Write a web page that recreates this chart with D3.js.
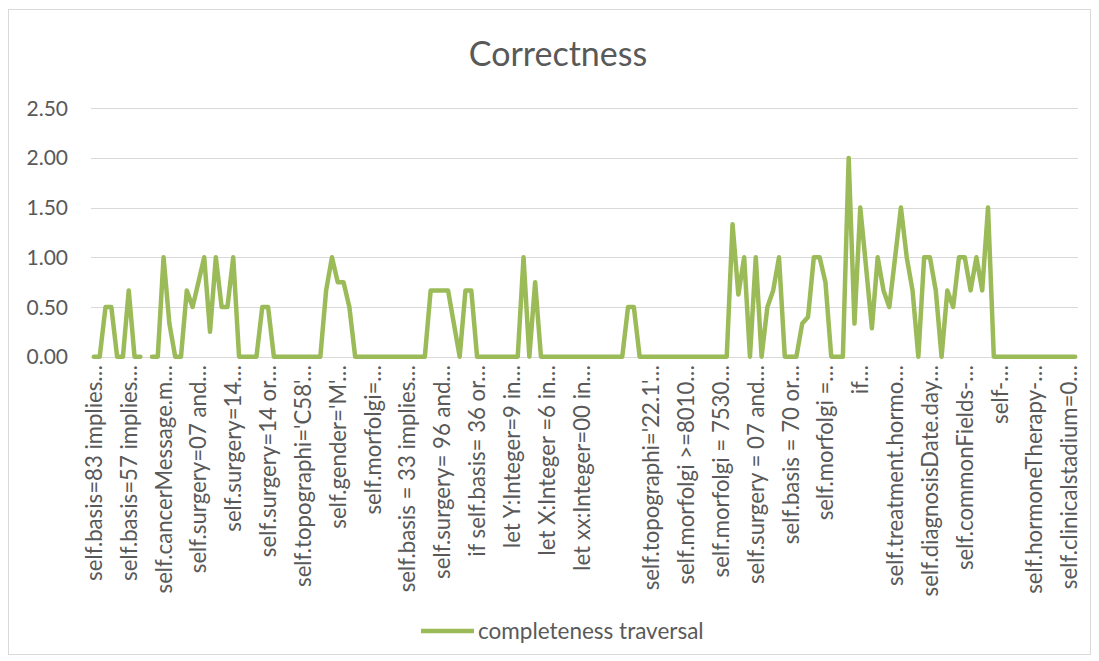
<!DOCTYPE html>
<html>
<head>
<meta charset="utf-8">
<script src="https://cdn.jsdelivr.net/npm/d3@7"></script>
<style>
  html, body { margin: 0; padding: 0; background: #fff; }
  svg { display: block; }
  text { font-family: Lato, "Open Sans", sans-serif; fill: #595959; }
</style>
</head>
<body>
<svg id="chart" width="1099" height="661"></svg>
<script>
const title = "Correctness";
const seriesName = "completeness traversal";
const yTicks = [0, 0.5, 1, 1.5, 2, 2.5];
const tickLabels = [
  "self.basis=83 implies…", "self.basis=57 implies…", "self.cancerMessage.m…",
  "self.surgery=07 and…", "self.surgery=14…", "self.surgery=14 or…",
  "self.topographi='C58'…", "self.gender='M'…", "self.morfolgi=…",
  "self.basis = 33 implies…", "self.surgery= 96 and…", "if self.basis= 36 or…",
  "let Y:Integer=9 in…", "let X:Integer =6 in…", "let xx:Integer=00 in…",
  "", "self.topographi='22.1'…", "self.morfolgi >=8010…",
  "self.morfolgi = 7530…", "self.surgery = 07 and…", "self.basis = 70 or…",
  "self.morfolgi =…", "if…", "self.treatment.hormo…",
  "self.diagnosisDate.day…", "self.commonFields-…", "self-…",
  "self.hormoneTherapy-…", "self.clinicalstadium=0…"
];
const values = [
  0, 0, 0.5, 0.5, 0, 0, 0.667, 0, 0, null,
  0, 0, 1, 0.333, 0, 0, 0.667, 0.5, 0.75, 1,
  0.25, 1, 0.5, 0.5, 1, 0, 0, 0, 0, 0.5,
  0.5, 0, 0, 0, 0, 0, 0, 0, 0, 0,
  0.667, 1, 0.75, 0.75, 0.5, 0, 0, 0, 0, 0,
  0, 0, 0, 0, 0, 0, 0, 0, 0.667, 0.667,
  0.667, 0.667, 0.333, 0, 0.667, 0.667, 0, 0, 0, 0,
  0, 0, 0, 0, 1, 0, 0.75, 0, 0, 0,
  0, 0, 0, 0, 0, 0, 0, 0, 0, 0,
  0, 0, 0.5, 0.5, 0, 0, 0, 0, 0, 0,
  0, 0, 0, 0, 0, 0, 0, 0, 0, 0,
  1.333, 0.625, 1, 0, 1, 0, 0.5, 0.667, 1, 0,
  0, 0, 0.333, 0.4, 1, 1, 0.75, 0, 0, 0,
  2, 0.333, 1.5, 0.9, 0.286, 1, 0.667, 0.5, 1, 1.5,
  1, 0.667, 0, 1, 1, 0.667, 0, 0.667, 0.5, 1,
  1, 0.667, 1, 0.667, 1.5, 0, 0, 0, 0, 0,
  0, 0, 0, 0, 0, 0, 0, 0, 0, 0
];
const labelEvery = 6;

const svg = d3.select("#chart");

// chart border
svg.append("rect")
  .attr("x", 8.5).attr("y", 9.5)
  .attr("width", 1082).attr("height", 645)
  .attr("fill", "#fff").attr("stroke", "#d9d9d9").attr("stroke-width", 1);

const x = d3.scaleBand()
  .domain(d3.range(values.length))
  .range([91, 1078]);
const cx = i => x(i) + x.bandwidth() / 2;
const y = d3.scaleLinear().domain([0, 2.5]).range([356.7, 108.2]);

// gridlines
svg.append("g").selectAll("line")
  .data(yTicks)
  .join("line")
  .attr("x1", 91).attr("x2", 1078)
  .attr("y1", d => Math.round(y(d)) + 0.5)
  .attr("y2", d => Math.round(y(d)) + 0.5)
  .attr("stroke", "#d9d9d9").attr("stroke-width", 1);

// y tick labels
svg.append("g").selectAll("text")
  .data(yTicks)
  .join("text")
  .attr("x", 68)
  .attr("y", d => y(d))
  .attr("dy", "0.36em")
  .attr("text-anchor", "end")
  .style("font-size", "21px")
  .text(d => d3.format(".2f")(d));

// category labels
svg.append("g").selectAll("text")
  .data(tickLabels)
  .join("text")
  .attr("transform", (d, k) => `translate(${cx(k * labelEvery)},365) rotate(-90)`)
  .attr("dy", "0.36em")
  .attr("text-anchor", "end")
  .style("font-size", "22.2px")
  .text(d => d);

// line
const line = d3.line()
  .defined(d => d != null)
  .x((d, i) => cx(i))
  .y(d => y(d));
svg.append("path")
  .datum(values)
  .attr("d", line)
  .attr("fill", "none")
  .attr("stroke", "#9bbb59")
  .attr("stroke-width", 4.5)
  .attr("stroke-linejoin", "round")
  .attr("stroke-linecap", "round");

// title
svg.append("text")
  .attr("x", 558).attr("y", 66)
  .attr("text-anchor", "middle")
  .style("font-size", "34px")
  .text(title);

// legend
svg.append("line")
  .attr("x1", 421).attr("x2", 474)
  .attr("y1", 631).attr("y2", 631)
  .attr("stroke", "#9bbb59").attr("stroke-width", 4.5);
svg.append("text")
  .attr("x", 478).attr("y", 631)
  .attr("dy", "0.36em")
  .style("font-size", "22.5px")
  .text(seriesName);
</script>
</body>
</html>
